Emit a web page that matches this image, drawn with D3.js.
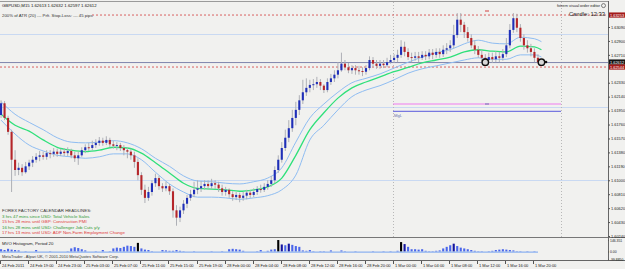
<!DOCTYPE html>
<html><head><meta charset="utf-8">
<script src="https://cdn.jsdelivr.net/npm/d3@7"></script>
<style>
html,body{margin:0;padding:0;background:#fff;overflow:hidden;}
svg{display:block;font-family:"Liberation Sans",Arial,sans-serif;}
</style></head><body>
<svg id="c" width="625" height="269"></svg>
<script>
// ---------- DATA ----------
const firstOpen = 1.6189;
const closes = [1.6205,1.6185,1.6166,1.6128,1.6114,1.6117,1.6111,1.6119,1.6124,1.6128,
1.6132,1.6134,1.6132,1.6137,1.6136,1.6139,1.6136,1.6139,1.6137,1.6140,
1.6134,1.6130,1.6134,1.6141,1.6145,1.6144,1.6148,1.6151,1.6154,1.6151,
1.6155,1.6149,1.6147,1.6148,1.6144,1.6141,1.6139,1.6134,1.6125,1.6107,
1.6087,1.6076,1.6084,1.6096,1.6103,1.6092,1.6089,1.6092,1.6085,1.6059,
1.6049,1.6059,1.6068,1.6076,1.6081,1.6087,1.6089,1.6092,1.6095,1.6092,
1.6096,1.6094,1.6089,1.6084,1.6087,1.6081,1.6077,1.6080,1.6076,1.6079,
1.6083,1.6080,1.6084,1.6088,1.6087,1.6091,1.6095,1.6100,1.6114,1.6128,
1.6144,1.6158,1.6171,1.6185,1.6196,1.6209,1.6220,1.6226,1.6230,1.6231,
1.6234,1.6229,1.6223,1.6234,1.6239,1.6244,1.6250,1.6259,1.6254,1.6250,
1.6253,1.6250,1.6249,1.6248,1.6253,1.6264,1.6259,1.6256,1.6259,1.6257,
1.6261,1.6264,1.6267,1.6271,1.6282,1.6275,1.6268,1.6267,1.6269,1.6267,
1.6271,1.6269,1.6274,1.6271,1.6275,1.6272,1.6278,1.6280,1.6284,1.6298,
1.6319,1.6312,1.6302,1.6294,1.6284,1.6278,1.6271,1.6267,1.6264,1.6268,
1.6265,1.6269,1.6267,1.6272,1.6284,1.6305,1.6321,1.6308,1.6294,1.6284,
1.6280,1.6275,1.6267,1.6261,1.6261];
const highs = [1.6209,1.6208,1.6188,1.6169,1.6141,1.6124,1.6122,1.6125,1.6128,1.6133,
1.6137,1.6140,1.6139,1.6141,1.6141,1.6144,1.6143,1.6143,1.6144,1.6145,
1.6143,1.6139,1.6139,1.6145,1.6149,1.6151,1.6154,1.6156,1.6159,1.6158,
1.6160,1.6158,1.6154,1.6152,1.6151,1.6148,1.6145,1.6143,1.6139,1.6130,
1.6111,1.6094,1.6091,1.6100,1.6109,1.6106,1.6096,1.6098,1.6095,1.6089,
1.6066,1.6064,1.6073,1.6080,1.6087,1.6098,1.6100,1.6099,1.6100,1.6100,
1.6102,1.6100,1.6098,1.6094,1.6091,1.6089,1.6085,1.6084,1.6083,1.6084,
1.6087,1.6087,1.6089,1.6092,1.6094,1.6096,1.6100,1.6106,1.6119,1.6134,
1.6152,1.6169,1.6182,1.6196,1.6207,1.6216,1.6237,1.6239,1.6237,1.6238,
1.6241,1.6238,1.6231,1.6239,1.6245,1.6250,1.6261,1.6274,1.6264,1.6260,
1.6257,1.6257,1.6256,1.6254,1.6257,1.6269,1.6268,1.6264,1.6264,1.6264,
1.6267,1.6271,1.6272,1.6278,1.6291,1.6289,1.6280,1.6274,1.6275,1.6275,
1.6276,1.6276,1.6279,1.6279,1.6280,1.6280,1.6284,1.6287,1.6291,1.6312,
1.6328,1.6328,1.6316,1.6309,1.6299,1.6291,1.6283,1.6278,1.6272,1.6274,
1.6274,1.6276,1.6275,1.6279,1.6294,1.6313,1.6328,1.6327,1.6313,1.6299,
1.6291,1.6286,1.6280,1.6272,1.6263];
const lows = [1.6185,1.6182,1.6162,1.6084,1.6106,1.6107,1.6106,1.6109,1.6114,1.6118,
1.6124,1.6126,1.6128,1.6128,1.6130,1.6132,1.6132,1.6133,1.6133,1.6133,
1.6130,1.6125,1.6121,1.6132,1.6137,1.6140,1.6141,1.6144,1.6147,1.6147,
1.6148,1.6145,1.6143,1.6141,1.6140,1.6134,1.6130,1.6128,1.6117,1.6100,
1.6080,1.6069,1.6072,1.6079,1.6091,1.6087,1.6084,1.6085,1.6080,1.6049,
1.6038,1.6043,1.6054,1.6062,1.6072,1.6077,1.6081,1.6084,1.6087,1.6087,
1.6088,1.6088,1.6084,1.6079,1.6079,1.6076,1.6072,1.6073,1.6070,1.6072,
1.6074,1.6076,1.6077,1.6080,1.6083,1.6084,1.6087,1.6091,1.6096,1.6110,
1.6124,1.6140,1.6152,1.6166,1.6175,1.6189,1.6204,1.6215,1.6220,1.6223,
1.6226,1.6223,1.6219,1.6220,1.6230,1.6234,1.6239,1.6248,1.6250,1.6246,
1.6245,1.6244,1.6244,1.6242,1.6244,1.6250,1.6254,1.6252,1.6252,1.6253,
1.6254,1.6259,1.6260,1.6261,1.6267,1.6269,1.6264,1.6261,1.6263,1.6261,
1.6264,1.6264,1.6265,1.6265,1.6267,1.6267,1.6268,1.6272,1.6275,1.6280,
1.6294,1.6302,1.6294,1.6289,1.6280,1.6272,1.6267,1.6261,1.6259,1.6260,
1.6260,1.6261,1.6261,1.6263,1.6268,1.6280,1.6301,1.6302,1.6289,1.6278,
1.6274,1.6269,1.6261,1.6259,1.6260];
// moving average + bands, sampled at these candle indices
const maIdx = [0,4,8,12,16,20,24,28,32,36,40,44,48,52,56,60,64,68,72,76,80,84,88,92,96,100,104,108,112,116,120,124,128,132,136,140,144,148,152,154];
const maMid = [1.6190,1.6175,1.6167,1.6155,1.6145,1.6141,1.6139,1.6141,1.6145,1.6144,1.6137,1.6124,1.6110,1.6096,1.6089,1.6088,1.6087,1.6085,1.6087,1.6091,1.6103,1.6134,1.6169,1.6192,1.6212,1.6226,1.6234,1.6241,1.6248,1.6254,1.6260,1.6264,1.6268,1.6275,1.6278,1.6276,1.6275,1.6283,1.6282,1.6278];
const maUp = [1.6207,1.6190,1.6179,1.6169,1.6158,1.6152,1.6151,1.6152,1.6154,1.6151,1.6143,1.6130,1.6119,1.6106,1.6099,1.6098,1.6096,1.6095,1.6098,1.6103,1.6117,1.6152,1.6185,1.6204,1.6220,1.6233,1.6239,1.6245,1.6253,1.6261,1.6268,1.6274,1.6278,1.6286,1.6291,1.6287,1.6286,1.6295,1.6293,1.6289];
const maLow = [1.6182,1.6163,1.6148,1.6140,1.6134,1.6132,1.6130,1.6132,1.6136,1.6136,1.6128,1.6111,1.6095,1.6084,1.6077,1.6077,1.6076,1.6074,1.6076,1.6079,1.6087,1.6107,1.6155,1.6175,1.6196,1.6214,1.6223,1.6229,1.6237,1.6246,1.6252,1.6256,1.6260,1.6264,1.6267,1.6265,1.6265,1.6271,1.6271,1.6268];
// MVO histogram values per candle
const volume = [30,20,35,25,20,15,0,5,0,0,
20,0,0,0,5,0,0,0,0,5,
40,55,45,30,15,0,0,5,0,20,
0,5,40,50,45,60,75,70,60,110,
40,25,20,5,0,0,20,15,10,10,
20,10,5,0,0,5,0,0,0,0,
5,0,0,5,0,30,35,30,25,10,
0,0,0,5,20,0,10,25,30,146,
90,80,100,85,70,60,15,10,20,5,
0,5,5,0,15,0,0,15,5,0,
0,5,0,0,0,0,5,0,0,5,
0,5,0,10,120,95,60,30,30,25,
30,10,5,5,10,15,40,60,80,100,
70,50,40,30,20,10,5,5,0,5,
10,20,25,30,25,20,15,5,5,0,
5,0,5,0,0];
const timeLabels = ["24 Feb 2011","24 Feb 19:00","24 Feb 23:00","25 Feb 03:00","25 Feb 07:00","25 Feb 11:00","25 Feb 15:00","25 Feb 19:00","28 Feb 00:00","28 Feb 04:00","28 Feb 08:00","28 Feb 12:00","28 Feb 16:00","28 Feb 20:00","1 Mar 00:00","1 Mar 04:00","1 Mar 08:00","1 Mar 12:00","1 Mar 16:00","1 Mar 20:00"];
const candlesPerLabel = 8;
const priceTicks = [1.63090,1.62900,1.62710,1.62330,1.62140,1.61950,1.61760,1.61570,1.61380,1.61190,1.61000,1.60810,1.60620,1.60430,1.60240];
const volTicks = [146.351, 0, -99.885];
const volTickText = ["146.351","0.00","-99.8850"];
const roundLevels = [1.63, 1.62, 1.61];
const bidPrice = 1.62612;
const stopPrice = 1.62544;
const topPrice = 1.63253;
const pinkPrice = 1.6204, bluePrice = 1.6194;
const markers = [{i:138, p:1.6261},{i:154, p:1.6261}];
const headline = "GBPUSD,M15  1.62613 1.62632 1.62597 1.62612";
const atrText = "200% of ATR (20)  ---  Prft. Stop-Loss:  ---  45 pips";
const news = [
 {t:"FOREX FACTORY CALENDAR HEADLINES:", c:"#333"},
 {t:"3 hrs 47 mins since USD: Total Vehicle Sales", c:"#2f9a2f"},
 {t:"15 hrs 28 mins until GBP: Construction PMI", c:"#e03a3a"},
 {t:"16 hrs 28 mins until USD: Challenger Job Cuts y/y", c:"#2f9a2f"},
 {t:"17 hrs 13 mins until USD: ADP Non-Farm Employment Change", c:"#e03a3a"}
];

// ---------- DRAW ----------
const svg = d3.select("#c");
const W = 625, H = 269, axisX = 608;
const n = closes.length;
const candles = closes.map((c,i)=>({i, o: i===0?firstOpen:closes[i-1], c, h: highs[i], l: lows[i]}));

const x = d3.scaleBand().domain(d3.range(n)).range([0, 542.5]).paddingInner(0.4);
const step = x.step(), bw = x.bandwidth();
const cx = i => x(i) !== undefined ? x(i) + bw/2 : i*step + bw/2;
const y = d3.scaleLinear().domain([1.6024, 1.6309]).range([236, 27]);
const yv = d3.scaleLinear().domain([-99.885, 146.351]).range([259.5, 240]);

svg.append("rect").attr("width",W).attr("height",H).attr("fill","#f1f1ef");

// round number lines
svg.selectAll(".rl").data(roundLevels).join("line")
 .attr("x1",0).attr("x2",axisX).attr("y1",d=>Math.round(y(d))+0.5).attr("y2",d=>Math.round(y(d))+0.5)
 .attr("stroke","#c9d9f2").attr("stroke-width",1);
// vertical dotted grid
[112,160].forEach(i=>{
 const xx = Math.round(i*step)+0.5;
 svg.append("line").attr("x1",xx).attr("x2",xx).attr("y1",2).attr("y2",237)
  .attr("stroke","#b8b8b8").attr("stroke-dasharray","1,2");
});
// top red dashed
svg.append("line").attr("x1",92).attr("x2",axisX).attr("y1",y(topPrice)).attr("y2",y(topPrice))
 .attr("stroke","#d23c3c").attr("stroke-dasharray","2,2").attr("stroke-width",0.8);
// bid line
svg.append("line").attr("x1",0).attr("x2",axisX).attr("y1",y(bidPrice)+0.5).attr("y2",y(bidPrice)+0.5)
 .attr("stroke","#7f86ad").attr("stroke-width",1);
// stop dotted
svg.append("line").attr("x1",0).attr("x2",axisX).attr("y1",y(stopPrice)).attr("y2",y(stopPrice))
 .attr("stroke","#d23c3c").attr("stroke-dasharray","2,2").attr("stroke-width",0.8);
// pink & blue segment lines
const segX1 = Math.round(112*step), segX2 = Math.round(160*step);
svg.append("line").attr("x1",segX1).attr("x2",segX2).attr("y1",y(pinkPrice)).attr("y2",y(pinkPrice))
 .attr("stroke","#f07cf0").attr("stroke-width",1.2);
svg.append("line").attr("x1",segX1).attr("x2",segX2).attr("y1",y(bluePrice)).attr("y2",y(bluePrice))
 .attr("stroke","#7878e0").attr("stroke-width",1.2);
svg.append("line").attr("x1",485).attr("x2",489).attr("y1",y(pinkPrice)).attr("y2",y(pinkPrice))
 .attr("stroke","#7070b0").attr("stroke-width",1);
svg.append("line").attr("x1",485).attr("x2",489).attr("y1",11).attr("y2",11)
 .attr("stroke","#d24040").attr("stroke-width",1);
svg.append("text").attr("x",segX1+1).attr("y",y(bluePrice)+6).attr("font-size",4.2)
 .attr("fill","#6a70b0").text("MgL");

// MA bands
const maPts = arr => maIdx.map((i,k)=>[cx(i), y(arr[k])]);
const line = d3.line().curve(d3.curveMonotoneX);
svg.append("path").attr("d",line(maPts(maUp))).attr("fill","none").attr("stroke","#8fbdf2").attr("stroke-width",1);
svg.append("path").attr("d",line(maPts(maLow))).attr("fill","none").attr("stroke","#8fbdf2").attr("stroke-width",1);
svg.append("path").attr("d",line(maPts(maMid))).attr("fill","none").attr("stroke","#2fe07a").attr("stroke-width",1.3);

// candles
const g = svg.append("g");
g.selectAll(".w").data(candles).join("line")
 .attr("x1",d=>cx(d.i)).attr("x2",d=>cx(d.i)).attr("y1",d=>y(d.h)).attr("y2",d=>y(d.l))
 .attr("stroke","#aeb0b6").attr("stroke-width",1);
g.selectAll(".b").data(candles).join("rect")
 .attr("x",d=>x(d.i)).attr("width",bw)
 .attr("y",d=>y(Math.max(d.o,d.c)))
 .attr("height",d=>Math.max(1, Math.abs(y(d.o)-y(d.c))))
 .attr("fill",d=>d.c>=d.o?"#1f2fb8":"#b5262a");

// markers
markers.forEach(m=>{
 svg.append("circle").attr("cx",cx(m.i)).attr("cy",y(m.p)).attr("r",3.2)
  .attr("fill","#d8d8d8").attr("stroke","#111").attr("stroke-width",1.4);
});
svg.append("circle").attr("cx",546).attr("cy",y(bidPrice)).attr("r",1.3).attr("fill","#111");

// texts top
svg.append("text").attr("x",2).attr("y",7).attr("font-size",4.3).attr("fill","#111").text(headline);
svg.append("text").attr("x",2).attr("y",16.5).attr("font-size",4.3).attr("fill","#333").text(atrText);
svg.append("text").attr("x",600).attr("y",7).attr("text-anchor","end").attr("font-size",3.9).attr("fill","#222").text("fxtrern visual order editor");
svg.append("circle").attr("cx",603.5).attr("cy",5.6).attr("r",2).attr("fill","none").attr("stroke","#333").attr("stroke-width",0.6);
svg.append("text").attr("x",605).attr("y",16).attr("text-anchor","end").attr("font-size",5.8).attr("fill","#222").text("Candle: 12:33");

// news block
news.forEach((d,k)=>{
 svg.append("text").attr("x",2).attr("y",212+k*5.6).attr("font-size",4.4).attr("fill",d.c).text(d.t);
});

// subwindow separator
svg.append("line").attr("x1",0).attr("x2",W).attr("y1",237.5).attr("y2",237.5).attr("stroke","#777").attr("stroke-width",1);
svg.append("rect").attr("x",0).attr("y",238).attr("width",axisX).attr("height",22).attr("fill","#f1f1ef");
svg.append("text").attr("x",2).attr("y",245).attr("font-size",4.3).attr("fill","#222").text("MVO Histogram, Period 20");
svg.selectAll(".v").data(volume).join("rect")
 .attr("x",(d,i)=>x(i)).attr("width",bw)
 .attr("y",d=>yv(d)).attr("height",d=>Math.max(0, yv(0)-yv(d)))
 .attr("fill",d=>d>=110?"#000":(d>=90?"#1414a0":"#4a66ea"));
svg.append("line").attr("x1",0).attr("x2",538).attr("y1",yv(0)+0.5).attr("y2",yv(0)+0.5)
 .attr("stroke","#8db2f0").attr("stroke-width",1.3);
svg.append("text").attr("x",2).attr("y",258).attr("font-size",4).attr("fill","#333")
 .text("MetaTrader - Alpari UK, \u00a9 2001-2010 MetaQuotes Software Corp.");

// frame lines
svg.append("line").attr("x1",0).attr("x2",axisX).attr("y1",1.5).attr("y2",1.5).attr("stroke","#9a9a9a");
svg.append("line").attr("x1",0).attr("x2",W).attr("y1",260.5).attr("y2",260.5).attr("stroke","#666");
svg.append("line").attr("x1",axisX+0.5).attr("x2",axisX+0.5).attr("y1",1).attr("y2",261).attr("stroke","#666");

// price axis
const ax = svg.append("g").attr("transform",`translate(${axisX},0)`)
 .call(d3.axisRight(y).tickValues(priceTicks).tickSize(2).tickPadding(1).tickFormat(d3.format(".5f")));
ax.select(".domain").remove();
ax.selectAll("text").attr("font-size",3.9).attr("font-family","Liberation Sans, Arial").attr("fill","#222");
ax.selectAll("line").attr("stroke","#555");
// price boxes
function box(p, fill, txt){
 const yy = y(p);
 svg.append("rect").attr("x",axisX+1).attr("y",yy-2.6).attr("width",16).attr("height",5.2).attr("fill",fill);
 svg.append("text").attr("x",axisX+2).attr("y",yy+1.5).attr("font-size",3.9).attr("fill","#fff").text(txt);
}
box(topPrice,"#a41a1a","1.63253");
box(bidPrice,"#111","1.62612");
box(stopPrice,"#a41a1a","1.62544");

// volume axis
const vax = svg.append("g").attr("transform",`translate(${axisX},0)`)
 .call(d3.axisRight(yv).tickValues(volTicks).tickSize(1).tickPadding(1).tickFormat((d,k)=>volTickText[k]));
vax.select(".domain").remove();
vax.selectAll("text").attr("font-size",3.4).attr("fill","#222");
vax.selectAll("line").attr("stroke","#555");

// time axis
const tIdx = timeLabels.map((t,k)=>k*candlesPerLabel);
const tx = svg.append("g").attr("transform","translate(0,261)");
tIdx.forEach((i,k)=>{
 const xx = Math.round(x(i));
 tx.append("line").attr("x1",xx+0.5).attr("x2",xx+0.5).attr("y1",0).attr("y2",3).attr("stroke","#555");
 tx.append("text").attr("x",xx+2).attr("y",6).attr("font-size",4).attr("fill","#222").text(timeLabels[k]);
});
</script>
</body></html>
